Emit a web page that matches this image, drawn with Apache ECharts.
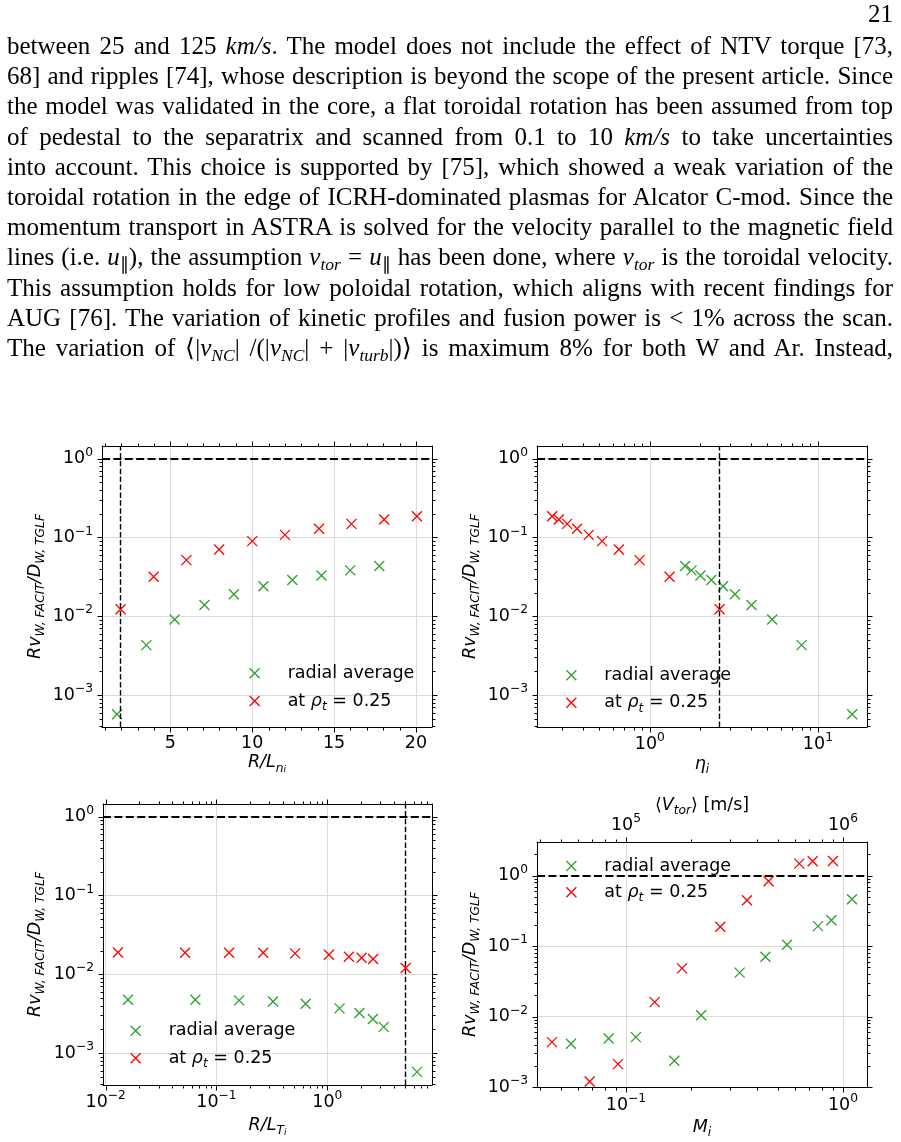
<!DOCTYPE html>
<html><head><meta charset="utf-8">
<script src="https://cdn.jsdelivr.net/npm/echarts@6/dist/echarts.min.js"></script>
<style>
html,body{margin:0;padding:0;background:#fff;}
#wrap{position:relative;width:901px;height:1142px;overflow:hidden;background:#fff;}
#chart{position:absolute;left:0;top:0;width:901px;height:1142px;}
.pno{position:absolute;right:8px;top:0px;font-family:'Liberation Serif',serif;font-size:25px;color:#000;z-index:2;}
.para{position:absolute;left:7px;top:31px;width:886px;font-family:'Liberation Serif',serif;font-size:25px;color:#000;z-index:2;}
.ln{height:30.2px;line-height:30.2px;text-align:justify;text-align-last:justify;}
.para sub{font-size:0.7em;line-height:0;vertical-align:-0.3em;}
</style></head>
<body>
<div id="wrap">
<div id="chart"></div>
<div class="pno">21</div>
<div class="para">
<div class="ln">between 25 and 125 <i>km/s</i>. The model does not include the effect of NTV torque [73,</div>
<div class="ln">68] and ripples [74], whose description is beyond the scope of the present article. Since</div>
<div class="ln">the model was validated in the core, a flat toroidal rotation has been assumed from top</div>
<div class="ln">of pedestal to the separatrix and scanned from 0.1 to 10 <i>km/s</i> to take uncertainties</div>
<div class="ln">into account. This choice is supported by [75], which showed a weak variation of the</div>
<div class="ln">toroidal rotation in the edge of ICRH-dominated plasmas for Alcator C-mod. Since the</div>
<div class="ln">momentum transport in ASTRA is solved for the velocity parallel to the magnetic field</div>
<div class="ln">lines (i.e. <i>u</i><sub>&#8741;</sub>), the assumption <i>v<sub>tor</sub></i> = <i>u</i><sub>&#8741;</sub> has been done, where <i>v<sub>tor</sub></i> is the toroidal velocity.</div>
<div class="ln">This assumption holds for low poloidal rotation, which aligns with recent findings for</div>
<div class="ln">AUG [76]. The variation of kinetic profiles and fusion power is &lt; 1% across the scan.</div>
<div class="ln">The variation of &#10216;|<i>v<sub>NC</sub></i>| /(|<i>v<sub>NC</sub></i>| + |<i>v<sub>turb</sub></i>|)&#10217; is maximum 8% for both W and Ar. Instead,</div>
</div>
</div>
<script>
// ---------------- data ----------------
// (a) scan of R/L_ni
const rlnRadX = [1.74, 3.53, 5.26, 7.08, 8.88, 10.68, 12.45, 14.23, 15.98, 17.76];
const rlnRadY = [0.00057, 0.0043, 0.0091, 0.0139, 0.0190, 0.0240, 0.0288, 0.0330, 0.0382, 0.0434];
const rlnLocX = [1.96, 3.98, 5.98, 7.98, 10.0, 12.0, 14.08, 16.06, 18.06, 20.06];
const rlnLocY = [0.0123, 0.0318, 0.0516, 0.0705, 0.0899, 0.108, 0.129, 0.149, 0.169, 0.186];
// (b) scan of eta_i
const etaRadX = [16.0, 8.0, 5.35, 4.03, 3.21, 2.73, 2.32, 2.00, 1.77, 1.62];
const etaRadY = [0.00057, 0.0043, 0.0091, 0.0139, 0.0190, 0.0240, 0.0288, 0.0330, 0.0382, 0.0434];
const etaLocX = [0.262, 0.287, 0.322, 0.369, 0.433, 0.520, 0.654, 0.868, 1.31, 2.6];
const etaLocY = [0.186, 0.169, 0.149, 0.129, 0.108, 0.0899, 0.0705, 0.0516, 0.0318, 0.0123];
// (c) scan of R/L_Ti
const rltRadX = [0.0159, 0.0645, 0.160, 0.324, 0.638, 1.29, 1.95, 2.58, 3.23, 6.45];
const rltRadY = [0.00474, 0.00474, 0.00466, 0.00452, 0.00422, 0.00369, 0.00322, 0.00271, 0.00215, 0.000577];
const rltLocX = [0.0129, 0.0521, 0.130, 0.264, 0.512, 1.035, 1.566, 2.04, 2.59, 5.1];
const rltLocY = [0.0189, 0.0188, 0.0188, 0.0188, 0.0184, 0.0177, 0.0167, 0.0162, 0.0156, 0.0120];
// (d) scan of M_i
const machRadX = [0.0558, 0.0832, 0.111, 0.167, 0.222, 0.334, 0.439, 0.552, 0.767, 0.884, 1.10];
const machRadY = [0.00410, 0.00489, 0.00510, 0.00236, 0.01044, 0.0420, 0.0707, 0.1044, 0.192, 0.233, 0.463];
const machLocX = [0.0456, 0.0680, 0.0919, 0.1356, 0.1812, 0.272, 0.361, 0.454, 0.629, 0.725, 0.899];
const machLocY = [0.00433, 0.00120, 0.00211, 0.0160, 0.0483, 0.188, 0.448, 0.831, 1.48, 1.60, 1.61];
// reference lines
const refY = 1;
const refXrln = 1.96, refXeta = 2.6, refXrlt = 5.1;
// axis limits
const yLim = [3.93e-4, 1.45];
const yLimM = [1e-3, 3];
const xLimRln = [0.824, 20.98];
const xLimEta = [0.213, 19.6];
const xLimRlt = [0.00946, 8.81];
const xLimM = [0.0389, 1.29];
const vtorLim = [38900, 1.29e6];
// tick labels
const yTicks = [1e-3, 1e-2, 1e-1, 1];
const rlnTicks = [5, 10, 15, 20];
const rlnMinor = [1, 2, 3, 4, 6, 7, 8, 9, 11, 12, 13, 14, 16, 17, 18, 19];
const etaTicks = [1, 10];
const rltTicks = [0.01, 0.1, 1];
const machTicks = [0.1, 1];
const vtorTicks = [1e5, 1e6];
const NAME_RAD = 'radial average';
const NAME_LOC = 'at \u03c1t = 0.25';

// ---------------- helpers ----------------
const FONT = 'DejaVu Sans';
const GREEN = '#2ca02c', RED = '#ff0000';
const XSYM = 'path://M0,0L10,10M10,0L0,10';
const GRIDC = '#dadada';

function logMinor(lim) {
  const out = [];
  for (let e = Math.floor(Math.log10(lim[0])); e <= Math.ceil(Math.log10(lim[1])); e++) {
    for (let m = 2; m <= 9; m++) {
      const v = parseFloat((m * Math.pow(10, e)).toPrecision(6));
      if (v > lim[0] && v < lim[1]) out.push(v);
    }
  }
  return out;
}
function powFmt(ticks) {
  return function (v) {
    for (const t of ticks) {
      if (Math.abs(v - t) <= t * 1e-6) {
        const e = Math.round(Math.log10(t));
        return '{b|10}{s|' + (e < 0 ? '\u2212' + (-e) : String(e)) + '}';
      }
    }
    return '';
  };
}
function linFmt(ticks) {
  return v => ticks.some(t => Math.abs(v - t) < 1e-9) ? '{b|' + v + '}' : '';
}
const powRich = {
  b: { fontFamily: FONT, fontSize: 17.5, lineHeight: 24, color: '#000' },
  s: { fontFamily: FONT, fontSize: 12.25, lineHeight: 14, verticalAlign: 'top', color: '#000' }
};
const nameRich = {
  m: { fontFamily: FONT, fontStyle: 'italic', fontSize: 17.5, lineHeight: 24, color: '#000' },
  u: { fontFamily: FONT, fontSize: 17.5, lineHeight: 24, color: '#000' },
  s: { fontFamily: FONT, fontStyle: 'italic', fontSize: 12.25, lineHeight: 14, verticalAlign: 'bottom', color: '#000' },
  ss: { fontFamily: FONT, fontStyle: 'italic', fontSize: 9, lineHeight: 9, verticalAlign: 'bottom', color: '#000' }
};
const yName = '{m|Rv}{s|W, FACIT}{m|/D}{s|W, TGLF}';

function mainAxis(dim, gi, type, lim, fmt, margin, name, gap, pos) {
  const a = {
    gridIndex: gi, type: type, min: lim[0], max: lim[1], position: pos,
    axisLine: { show: true, onZero: false, lineStyle: { color: '#000', width: 1 } },
    axisTick: { show: false }, minorTick: { show: false },
    splitLine: { show: pos === 'bottom' || pos === 'left', showMinLine: false, showMaxLine: false,
                 lineStyle: { color: GRIDC, width: 1 } },
    axisLabel: { show: true, formatter: fmt, margin: margin, rich: powRich, color: '#000',
                 fontFamily: FONT, fontSize: 17.5, showMinLabel: true, showMaxLabel: true },
    name: name, nameLocation: 'middle', nameGap: gap,
    nameTextStyle: { fontFamily: FONT, fontSize: 17.5, color: '#000', rich: nameRich }
  };
  if (type === 'log') a.logBase = 10;
  if (dim === 'y') a.nameRotate = 90;
  return a;
}
function mirrorAxis(gi, type, lim, pos) {
  const a = {
    gridIndex: gi, type: type, min: lim[0], max: lim[1], position: pos,
    axisLine: { show: true, onZero: false, lineStyle: { color: '#000', width: 1 } },
    axisTick: { show: false }, axisLabel: { show: false }, splitLine: { show: false }
  };
  if (type === 'log') a.logBase = 10;
  return a;
}
function scatter(name, xi, yi, xs, ys, color) {
  return {
    type: 'scatter', name: name, xAxisIndex: xi, yAxisIndex: yi, z: 4,
    data: xs.map((x, i) => [x, ys[i]]),
    symbol: XSYM, symbolSize: 10,
    itemStyle: { color: color, borderColor: color, borderWidth: 1.3, opacity: 1 },
    emphasis: { disabled: true }
  };
}
function refLines(yv, xv) {
  const d = [{ yAxis: yv, lineStyle: { color: '#000', width: 2, type: [8, 3.4] } }];
  if (xv !== null) d.push({ xAxis: xv, lineStyle: { color: '#000', width: 1.4, type: [5.5, 2.4] } });
  return { silent: true, symbol: ['none', 'none'], label: { show: false }, animation: false, data: d };
}
// ticks (outward) drawn from tick value lists through the axes' scales
function tickSeries(xi, yi, o) {
  const data = [];
  (o.xMajor || []).forEach(v => data.push([v, o.yRef, 0]));
  (o.xMinor || []).forEach(v => data.push([v, o.yRef, 1]));
  (o.yMajor || []).forEach(v => data.push([o.xRef, v, 2]));
  (o.yMinor || []).forEach(v => data.push([o.xRef, v, 3]));
  return {
    type: 'custom', xAxisIndex: xi, yAxisIndex: yi, silent: true, z: 6, clip: false,
    encode: { x: 0, y: 1 }, data: data,
    renderItem: function (params, api) {
      const cs = params.coordSys;
      const kind = api.value(2);
      const p = api.coord([api.value(0), api.value(1)]);
      const len = (kind === 0 || kind === 2) ? 5 : 3;
      const st = { stroke: '#000', lineWidth: 1 };
      const ch = [];
      if (kind < 2) {
        const x = Math.round(p[0]) + 0.5;
        const yb = Math.round(cs.y + cs.height) + 0.5, yt = Math.round(cs.y) + 0.5;
        if (o.bottom) ch.push({ type: 'line', shape: { x1: x, y1: yb, x2: x, y2: yb + len }, style: st });
        if (o.top) ch.push({ type: 'line', shape: { x1: x, y1: yt, x2: x, y2: yt - len }, style: st });
      } else {
        const y = Math.round(p[1]) + 0.5;
        const xl = Math.round(cs.x) + 0.5, xr = Math.round(cs.x + cs.width) + 0.5;
        if (o.left) ch.push({ type: 'line', shape: { x1: xl, y1: y, x2: xl - len, y2: y }, style: st });
        if (o.right) ch.push({ type: 'line', shape: { x1: xr, y1: y, x2: xr + len, y2: y }, style: st });
      }
      return { type: 'group', children: ch };
    }
  };
}
// left = x of the icon's left edge (legend box starts at the drawn icon)
function legendAt(left, top, gap) {
  return {
    left: left, top: top, orient: 'vertical', padding: 0, itemGap: gap,
    itemWidth: 56, itemHeight: 10, icon: XSYM, symbolKeepAspect: true,
    selectedMode: false, data: [NAME_RAD, NAME_LOC],
    itemStyle: { borderWidth: 1.3 },
    formatter: n => n === NAME_RAD ? n : 'at {m|\u03c1}{s|t}{u| = 0.25}',
    textStyle: { fontFamily: FONT, fontSize: 17.5, lineHeight: 24, color: '#000', rich: nameRich }
  };
}

// ---------------- option ----------------
const grids = [
  { left: 102, top: 446, width: 330, height: 281 },
  { left: 537, top: 446, width: 330, height: 281 },
  { left: 103, top: 804, width: 329, height: 281 },
  { left: 537, top: 842, width: 330, height: 245 }
];
const topVtor = mainAxis('x', 3, 'log', vtorLim, powFmt(vtorTicks), 5, '{u|\u27e8}{m|V}{s|tor}{u|\u27e9 [m/s]}', 25, 'top');
topVtor.nameMoveOverlap = false;
const xAxes = [
  mainAxis('x', 0, 'value', xLimRln, linFmt(rlnTicks), 4.6, '{m|R/L}{s|n}{ss|i}', 21, 'bottom'),
  mirrorAxis(0, 'value', xLimRln, 'top'),
  mainAxis('x', 1, 'log', xLimEta, powFmt(etaTicks), 5, '{m|\u03b7}{s|i}', 25, 'bottom'),
  mirrorAxis(1, 'log', xLimEta, 'top'),
  mainAxis('x', 2, 'log', xLimRlt, powFmt(rltTicks), 5, '{m|R/L}{s|T}{ss|i}', 28, 'bottom'),
  mirrorAxis(2, 'log', xLimRlt, 'top'),
  mainAxis('x', 3, 'log', xLimM, powFmt(machTicks), 6, '{m|M}{s|i}', 28, 'bottom'),
  topVtor
];
const yAxes = [
  mainAxis('y', 0, 'log', yLim, powFmt(yTicks), 9, yName, 55, 'left'),
  mirrorAxis(0, 'log', yLim, 'right'),
  mainAxis('y', 1, 'log', yLim, powFmt(yTicks), 9, yName, 55, 'left'),
  mirrorAxis(1, 'log', yLim, 'right'),
  mainAxis('y', 2, 'log', yLim, powFmt(yTicks), 9, yName, 56, 'left'),
  mirrorAxis(2, 'log', yLim, 'right'),
  mainAxis('y', 3, 'log', yLimM, powFmt(yTicks), 9, yName, 55, 'left'),
  mirrorAxis(3, 'log', yLimM, 'right')
];

const s1 = scatter(NAME_RAD, 0, 0, rlnRadX, rlnRadY, GREEN); s1.markLine = refLines(refY, refXrln);
const s3 = scatter(NAME_RAD, 2, 2, etaRadX, etaRadY, GREEN); s3.markLine = refLines(refY, refXeta);
const s5 = scatter(NAME_RAD, 4, 4, rltRadX, rltRadY, GREEN); s5.markLine = refLines(refY, refXrlt);
const s7 = scatter(NAME_RAD, 6, 6, machRadX, machRadY, GREEN); s7.markLine = refLines(refY, null);

const series = [
  s1, scatter(NAME_LOC, 0, 0, rlnLocX, rlnLocY, RED),
  s3, scatter(NAME_LOC, 2, 2, etaLocX, etaLocY, RED),
  s5, scatter(NAME_LOC, 4, 4, rltLocX, rltLocY, RED),
  s7, scatter(NAME_LOC, 6, 6, machLocX, machLocY, RED),
  tickSeries(0, 0, { xMajor: rlnTicks, xMinor: rlnMinor, yMajor: yTicks, yMinor: logMinor(yLim),
    xRef: xLimRln[0], yRef: yLim[0], top: true, bottom: true, left: true, right: true }),
  tickSeries(2, 2, { xMajor: etaTicks, xMinor: logMinor(xLimEta), yMajor: yTicks, yMinor: logMinor(yLim),
    xRef: xLimEta[0], yRef: yLim[0], top: true, bottom: true, left: true, right: true }),
  tickSeries(4, 4, { xMajor: rltTicks, xMinor: logMinor(xLimRlt), yMajor: yTicks, yMinor: logMinor(yLim),
    xRef: xLimRlt[0], yRef: yLim[0], top: true, bottom: true, left: true, right: true }),
  tickSeries(6, 6, { xMajor: machTicks, xMinor: logMinor(xLimM), yMajor: yTicks, yMinor: logMinor(yLimM),
    xRef: xLimM[0], yRef: yLimM[0], top: false, bottom: true, left: true, right: true }),
  tickSeries(7, 6, { xMajor: vtorTicks, xMinor: logMinor(vtorLim), xRef: vtorLim[0], yRef: yLimM[0],
    top: true, bottom: false })
];

const option = {
  animation: false,
  backgroundColor: '#fff',
  grid: grids,
  xAxis: xAxes,
  yAxis: yAxes,
  legend: [
    legendAt(249, 661.3, 3.7),
    legendAt(565.7, 663.3, 3.4),
    legendAt(130, 1018.7, 3.6),
    legendAt(565.7, 854, 2.3)
  ],
  series: series
};
const chart = echarts.init(document.getElementById('chart'), null, { renderer: 'canvas', width: 901, height: 1142 });
chart.setOption(option);
</script>
</body></html>
